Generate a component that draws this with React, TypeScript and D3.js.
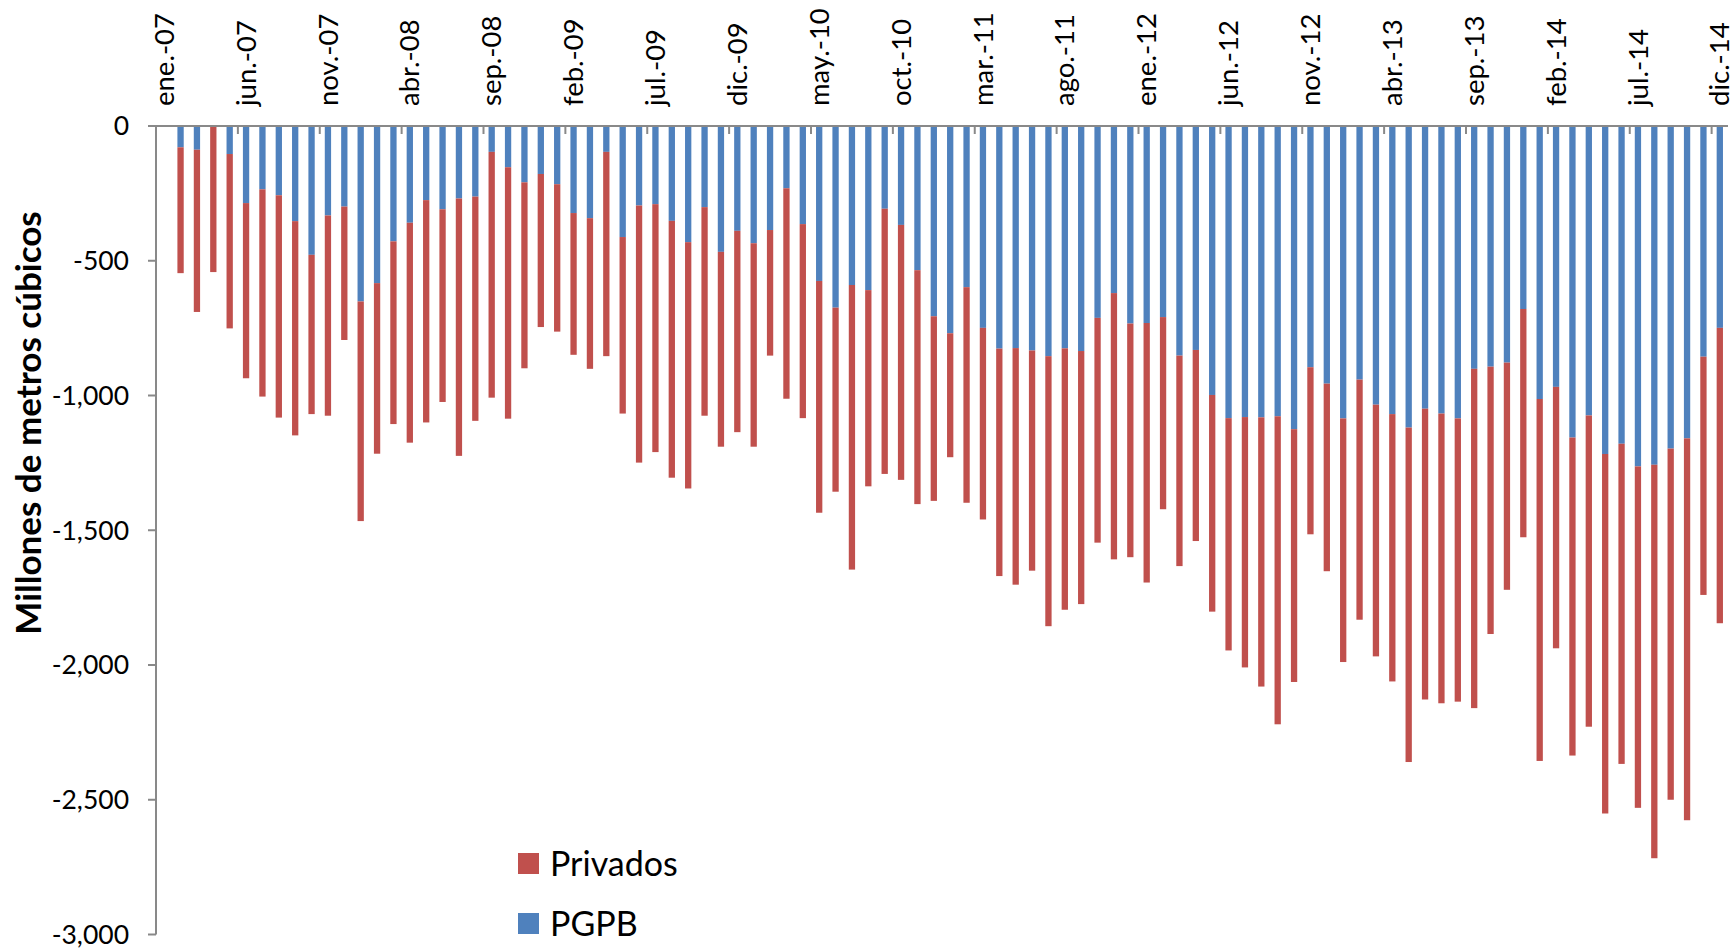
import React from "react";
import * as d3 from "d3";

const monthAbbr = ["ene.", "feb.", "mar.", "abr.", "may.", "jun.", "jul.", "ago.", "sep.", "oct.", "nov.", "dic."];
const years = ["07", "08", "09", "10", "11", "12", "13", "14"];
const categories: string[] = years.flatMap((yy) => monthAbbr.map((m) => `${m}-${yy}`));

// Millones de metros cúbicos (negative); first month (ene.-07) has no data
const pgpb: (number | null)[] = [
  null, -79, -88, 0, -104, -286, -235, -257, -353, -478, -332, -299,
  -651, -583, -428, -359, -275, -309, -269, -262, -96, -153, -209, -178,
  -216, -323, -342, -96, -412, -295, -290, -352, -431, -301, -467, -389,
  -435, -386, -231, -364, -575, -674, -590, -609, -307, -367, -535, -706,
  -769, -598, -749, -826, -824, -833, -854, -825, -835, -712, -620, -733,
  -731, -709, -852, -831, -998, -1084, -1080, -1081, -1077, -1125, -895, -956,
  -1085, -941, -1034, -1069, -1119, -1049, -1067, -1085, -901, -893, -878, -679,
  -1013, -968, -1156, -1074, -1217, -1179, -1263, -1257, -1197, -1159, -856, -749,
];
const privados: (number | null)[] = [
  null, -467, -602, -542, -647, -650, -769, -825, -795, -591, -743, -495,
  -815, -633, -678, -816, -825, -715, -955, -832, -912, -933, -690, -568,
  -547, -526, -559, -758, -655, -954, -920, -953, -914, -774, -723, -747,
  -755, -466, -781, -720, -860, -683, -1056, -728, -984, -946, -868, -685,
  -460, -800, -711, -844, -878, -817, -1002, -970, -939, -834, -988, -867,
  -963, -713, -781, -709, -804, -862, -929, -999, -1143, -938, -620, -696,
  -904, -891, -934, -992, -1241, -1079, -1075, -1051, -1259, -992, -843, -847,
  -1343, -970, -1180, -1155, -1334, -1188, -1267, -1460, -1303, -1417, -884, -1096,
];
const yTicks = [0, -500, -1000, -1500, -2000, -2500, -3000];
const seriesNames = ["Privados", "PGPB"];
const colors: Record<string, string> = { PGPB: "#4F81BD", Privados: "#C0504D" };

const W = 1734;
const H = 950;
const X0 = 156;
const X1 = 1728;
const Y0 = 126;
const YB = 934.5;
const FONT = "Lato, 'Open Sans', sans-serif";
const AXIS = "#898989";

const fmt = d3.formatLocale({ decimal: ".", thousands: ",", grouping: [3], currency: ["$", ""], minus: "-" }).format(",");

export default function App() {
  const x = d3.scaleBand<string>().domain(categories).range([X0, X1]).paddingInner(0.615).paddingOuter(0.3075);
  const y = d3.scaleLinear().domain([-3000, 0]).range([YB, Y0]);
  const step = (X1 - X0) / categories.length;

  const rows = categories.map((c, i) => ({ cat: c, PGPB: pgpb[i] ?? 0, Privados: privados[i] ?? 0, has: pgpb[i] !== null }));
  const stack = d3.stack<any>().keys(["PGPB", "Privados"]).offset(d3.stackOffsetDiverging);
  const layers = stack(rows);

  const labelIdx = categories.map((_, i) => i).filter((i) => i % 5 === 0);

  return (
    <svg width={W} height={H} style={{ position: "absolute", left: 0, top: 0, background: "#fff" }} fontFamily={FONT}>
      {layers.map((layer) => (
        <g key={layer.key} fill={colors[layer.key]}>
          {layer.map((d, i) =>
            rows[i].has && d[0] !== d[1] ? (
              <rect
                key={i}
                x={x(rows[i].cat)}
                width={x.bandwidth()}
                y={y(Math.max(d[0], d[1]))}
                height={Math.abs(y(d[0]) - y(d[1]))}
              />
            ) : null
          )}
        </g>
      ))}
      {/* y axis */}
      <line x1={X0} x2={X0} y1={Y0} y2={YB} stroke={AXIS} strokeWidth={2} />
      {yTicks.map((t) => (
        <g key={t}>
          <line x1={X0 - 8} x2={X0} y1={y(t)} y2={y(t)} stroke={AXIS} strokeWidth={2} />
          <text x={129} y={y(t)} dy="0.35em" textAnchor="end" fontSize={26.5} fill="#000">
            {fmt(t)}
          </text>
        </g>
      ))}
      {/* x axis at 0 */}
      <line x1={X0} x2={X1} y1={y(0)} y2={y(0)} stroke={AXIS} strokeWidth={2} />
      {labelIdx.map((i) => (
        <line key={"t" + i} x1={X0 + i * step} x2={X0 + i * step} y1={y(0)} y2={y(0) + 8} stroke={AXIS} strokeWidth={2} />
      ))}
      {labelIdx.map((i) => {
        const cx = (x(categories[i]) as number) + x.bandwidth() / 2;
        return (
          <text key={"l" + i} transform={`translate(${cx},106) rotate(-90)`} dy="0.35em" textAnchor="start" fontSize={27.5} fill="#000">
            {categories[i]}
          </text>
        );
      })}
      {/* axis title */}
      <text transform={`translate(29,423) rotate(-90)`} dy="0.35em" textAnchor="middle" fontSize={35} fontWeight="bold" fill="#000">
        Millones de metros cúbicos
      </text>
      {/* legend */}
      {seriesNames.map((s, i) => (
        <g key={s} transform={`translate(518,${853 + i * 60})`}>
          <rect width={21} height={21} fill={colors[s]} />
          <text x={32} y={10.5} dy="0.36em" fontSize={34} fill="#000">
            {s}
          </text>
        </g>
      ))}
    </svg>
  );
}
